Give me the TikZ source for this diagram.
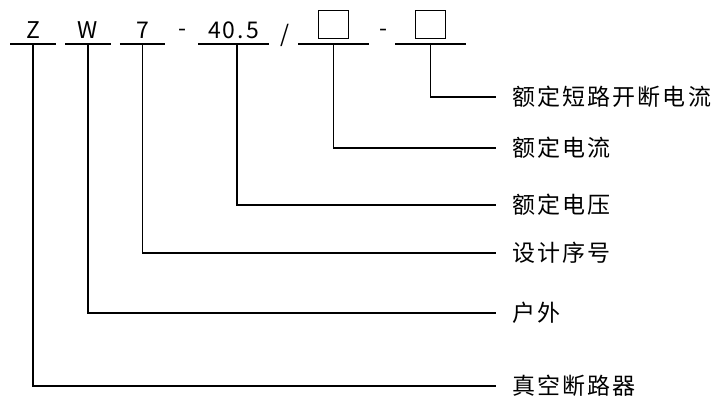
\documentclass[tikz,border=0pt]{standalone}
\usepackage{fontspec}
\newfontfamily\cjk[LetterSpace=9]{Noto Sans CJK SC}
\usetikzlibrary{positioning}

\begin{document}
\begin{tikzpicture}[x=1pt, y=-1pt, line width=1.1pt]
      % Node style
      \tikzset{
        txt/.style={font=\cjk\fontsize{23}{27}\selectfont},
        code/.style={txt, inner sep=0pt, text depth=5pt, minimum width=44pt, anchor=south},
        wide/.style={code, minimum width=69pt},
        sep/.style={txt, inner sep=0pt},
        sqbox/.style={draw, minimum width=30pt, minimum height=28pt, inner sep=0pt},
        desc/.style={txt, anchor=west, inner xsep=16pt, inner ysep=0pt},
      }
      \useasboundingbox (0,0) rectangle (723,409);
      % Model code
      \node (type) [code] at (33,44) {Z};
      \node (site) [code] at (88,44) {W};
      \node (serial) [code] at (142.5,44) {7};
      \node (dash1) [sep] at (182,33) {-};
      \node (volt) [wide] at (233.5,44) {40.5};
      \node (slash) [sep] at (285,35) {/};
      \node (curr) [wide] at (333.5,44) {};
      \node (currbox) [sqbox, above=5pt of curr.south] {};
      \node (dash2) [sep] at (383,33) {-};
      \node (brk) [wide] at (430.5,44) {};
      \node (brkbox) [sqbox, above=5pt of brk.south] {};
      % Meanings
      \node (dbrk) [desc] at (496,97) {额定短路开断电流};
      \node (dcurr) [desc] at (496,148) {额定电流};
      \node (dvolt) [desc] at (496,205) {额定电压};
      \node (dserial) [desc] at (496,253) {设计序号};
      \node (dsite) [desc] at (496,313) {户外};
      \node (dtype) [desc] at (496,386) {真空断路器};
      % Lines
      \foreach \n in {type, site, serial, volt, curr, brk}
        \draw (\n.south west) -- (\n.south east);
      \draw (brk.south) |- (dbrk.west);
      \draw (curr.south) |- (dcurr.west);
      \draw ([xshift=3.5pt]volt.south) |- (dvolt.west);
      \draw (serial.south) |- (dserial.west);
      \draw (site.south) |- (dsite.west);
      \draw (type.south) |- (dtype.west);
    \end{tikzpicture}
\end{document}
